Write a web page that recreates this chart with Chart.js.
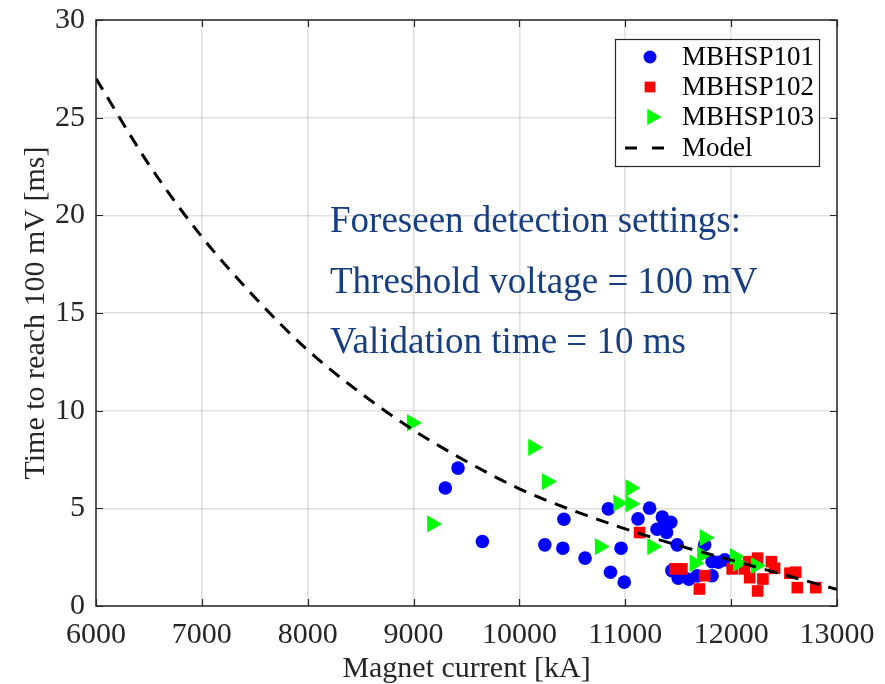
<!DOCTYPE html>
<html>
<head>
<meta charset="utf-8">
<script src="https://cdn.jsdelivr.net/npm/chart.js@4/dist/chart.umd.min.js"></script>
<style>
  html, body { margin: 0; padding: 0; background: #ffffff; }
  #c { display: block; }
</style>
</head>
<body>
<canvas id="c" width="885" height="684"></canvas>
<script>
// ---- Data ----
const seriesNames = ['MBHSP101', 'MBHSP102', 'MBHSP103', 'Model'];

const x101 = [9300, 9420, 9650, 10240, 10410, 10420, 10620, 10840, 10860, 10960, 10990, 11120, 11230, 11300, 11350, 11370, 11390, 11430, 11440, 11490, 11500, 11600, 11680, 11750, 11820, 11820, 11880, 11940];
const y101 = [6.04, 7.06, 3.30, 3.13, 2.96, 4.44, 2.45, 4.97, 1.73, 2.96, 1.22, 4.46, 5.01, 3.93, 4.55, 4.16, 3.76, 4.29, 1.81, 3.13, 1.42, 1.37, 1.54, 3.13, 1.55, 2.27, 2.24, 2.36];

const x102 = [11135, 11470, 11535, 11700, 11750, 12010, 12125, 12165, 12175, 12250, 12250, 12300, 12380, 12410, 12555, 12610, 12625, 12800];
const y102 = [3.76, 1.90, 1.90, 0.87, 1.55, 1.90, 1.90, 2.27, 1.45, 2.45, 0.77, 1.38, 2.27, 1.93, 1.68, 1.73, 0.94, 0.94];

const x103 = [8985, 9175, 10130, 10260, 10760, 10935, 11050, 11050, 11255, 11750, 11655, 11725, 12035, 12065, 12235];
const y103 = [9.38, 4.20, 8.12, 6.37, 3.04, 5.27, 6.04, 5.23, 3.04, 3.50, 2.19, 2.62, 2.53, 2.19, 2.07];

const xModel = [6000, 6500, 7000, 7500, 8000, 8500, 9000, 9500, 10000, 10500, 11000, 11500, 12000, 12500, 13000];
const yModel = [27.0, 22.6, 18.9, 15.8, 13.1, 10.9, 9.0, 7.4, 6.0, 4.9, 3.95, 3.1, 2.35, 1.6, 0.85];

const xTicks = [6000, 7000, 8000, 9000, 10000, 11000, 12000, 13000];
const yTicks = [0, 5, 10, 15, 20, 25, 30];

const annotationLines = ['Foreseen detection settings:', 'Threshold voltage = 100 mV', 'Validation time = 10 ms'];

const xTitle = 'Magnet current [kA]';
const yTitle = 'Time to reach 100 mV [ms]';

// ---- helpers ----
const pts = (xs, ys) => xs.map((x, i) => ({ x: x, y: ys[i] }));
const SERIF = "'Liberation Serif', 'Times New Roman', serif";
const AXIS_COLOR = '#262626';
const BLUE = '#0000ff', RED = '#ff0000', GREEN = '#00ff00';

function drawMarker(ctx, type, x, y, r, color) {
  ctx.save();
  ctx.fillStyle = color;
  ctx.beginPath();
  if (type === 'circle') {
    ctx.arc(x, y, r, 0, Math.PI * 2);
  } else if (type === 'rect') {
    const s = r * Math.SQRT1_2;
    ctx.rect(x - s, y - s, 2 * s, 2 * s);
  } else if (type === 'triangleRight') {
    ctx.moveTo(x + r, y);
    ctx.lineTo(x - r / 2, y - r * Math.sqrt(3) / 2);
    ctx.lineTo(x - r / 2, y + r * Math.sqrt(3) / 2);
    ctx.closePath();
  }
  ctx.fill();
  ctx.restore();
}

// Box + inward ticks (MATLAB style), annotation text and legend
const decorPlugin = {
  id: 'decor',
  afterDatasetsDraw(chart) {
    const ctx = chart.ctx;
    const a = chart.chartArea;
    const xs = chart.scales.x, ys = chart.scales.y;
    ctx.save();
    // inward ticks
    ctx.strokeStyle = AXIS_COLOR;
    ctx.lineWidth = 1.2;
    const tl = 7;
    ctx.beginPath();
    xTicks.forEach(v => {
      const px = Math.round(xs.getPixelForValue(v)) + 0.5;
      ctx.moveTo(px, a.bottom); ctx.lineTo(px, a.bottom - tl);
      ctx.moveTo(px, a.top); ctx.lineTo(px, a.top + tl);
    });
    yTicks.forEach(v => {
      const py = Math.round(ys.getPixelForValue(v)) + 0.5;
      ctx.moveTo(a.left, py); ctx.lineTo(a.left + tl, py);
      ctx.moveTo(a.right, py); ctx.lineTo(a.right - tl, py);
    });
    ctx.stroke();
    // box
    ctx.lineWidth = 1.5;
    ctx.strokeRect(a.left, a.top, a.right - a.left, a.bottom - a.top);

    // annotation text
    ctx.fillStyle = '#163e80';
    ctx.font = '37px ' + SERIF;
    ctx.textAlign = 'left';
    ctx.textBaseline = 'alphabetic';
    const tx = 330;
    const baselines = [232, 293, 353];
    annotationLines.forEach((t, i) => ctx.fillText(t, tx, baselines[i]));

    // legend
    const lx = 615, ly = 39, lw = 204, lh = 127;
    ctx.fillStyle = '#ffffff';
    ctx.fillRect(lx, ly, lw, lh);
    ctx.strokeStyle = AXIS_COLOR;
    ctx.lineWidth = 1.2;
    ctx.strokeRect(lx + 0.5, ly + 0.5, lw, lh);
    const rowY = [57, 87, 117, 148];
    const mx = 650, textX = 682;
    drawMarker(ctx, 'circle', mx, rowY[0], 6.5, BLUE);
    drawMarker(ctx, 'rect', mx, rowY[1], 7.6, RED);
    drawMarker(ctx, 'triangleRight', mx + 2, rowY[2], 9.5, GREEN);
    ctx.strokeStyle = '#000000';
    ctx.lineWidth = 3;
    ctx.setLineDash([12, 15]);
    ctx.beginPath();
    ctx.moveTo(625, rowY[3]); ctx.lineTo(665, rowY[3]);
    ctx.stroke();
    ctx.setLineDash([]);
    ctx.fillStyle = '#000000';
    ctx.font = '27px ' + SERIF;
    ctx.textBaseline = 'middle';
    seriesNames.forEach((n, i) => ctx.fillText(n, textX, rowY[i] + 1));
    ctx.restore();
  }
};

new Chart(document.getElementById('c'), {
  type: 'scatter',
  data: {
    datasets: [
      {
        label: seriesNames[3],
        data: pts(xModel, yModel),
        showLine: true,
        borderColor: '#000000',
        borderWidth: 3,
        borderDash: [13, 9],
        pointRadius: 0,
        cubicInterpolationMode: 'monotone',
        fill: false,
        order: 0
      },
      {
        label: seriesNames[2],
        data: pts(x103, y103),
        pointStyle: 'triangle',
        rotation: 90,
        pointRadius: 10,
        pointBackgroundColor: GREEN,
        pointBorderColor: GREEN,
        pointBorderWidth: 0,
        order: 1
      },
      {
        label: seriesNames[1],
        data: pts(x102, y102),
        pointStyle: 'rect',
        pointRadius: 8.2,
        pointBackgroundColor: RED,
        pointBorderColor: RED,
        pointBorderWidth: 0,
        order: 2
      },
      {
        label: seriesNames[0],
        data: pts(x101, y101),
        pointStyle: 'circle',
        pointRadius: 6.8,
        pointBackgroundColor: BLUE,
        pointBorderColor: BLUE,
        pointBorderWidth: 0,
        order: 3
      }
    ]
  },
  options: {
    responsive: false,
    animation: false,
    devicePixelRatio: 1,
    layout: { padding: { top: 20, right: 48, left: 0, bottom: 0 } },
    plugins: {
      legend: { display: false },
      tooltip: { enabled: false }
    },
    scales: {
      x: {
        type: 'linear',
        min: 6000,
        max: 13000,
        afterFit(s) { s.height = 78; s.paddingLeft = 0; s.paddingRight = 0; },
        afterBuildTicks(s) { s.ticks = xTicks.map(v => ({ value: v })); },
        ticks: {
          color: AXIS_COLOR,
          font: { family: SERIF, size: 30 },
          padding: 11,
          maxRotation: 0,
          autoSkip: false,
          callback: v => String(v)
        },
        grid: { color: 'rgba(0,0,0,0.12)', lineWidth: 1.6, drawTicks: false },
        border: { display: false },
        title: {
          display: true,
          text: xTitle,
          color: AXIS_COLOR,
          font: { family: SERIF, size: 30, lineHeight: 1 },
          padding: { top: 0, bottom: 0 }
        }
      },
      y: {
        type: 'linear',
        min: 0,
        max: 30,
        afterFit(s) { s.width = 96; s.paddingTop = 0; s.paddingBottom = 0; },
        afterBuildTicks(s) { s.ticks = yTicks.map(v => ({ value: v })); },
        ticks: {
          color: AXIS_COLOR,
          font: { family: SERIF, size: 30 },
          padding: 11,
          autoSkip: false,
          callback: v => String(v)
        },
        grid: { color: 'rgba(0,0,0,0.12)', lineWidth: 1.6, drawTicks: false },
        border: { display: false },
        title: {
          display: true,
          text: yTitle,
          color: AXIS_COLOR,
          font: { family: SERIF, size: 30, lineHeight: 1 },
          padding: { top: 21, bottom: 0 }
        }
      }
    }
  },
  plugins: [decorPlugin]
});
</script>
</body>
</html>
